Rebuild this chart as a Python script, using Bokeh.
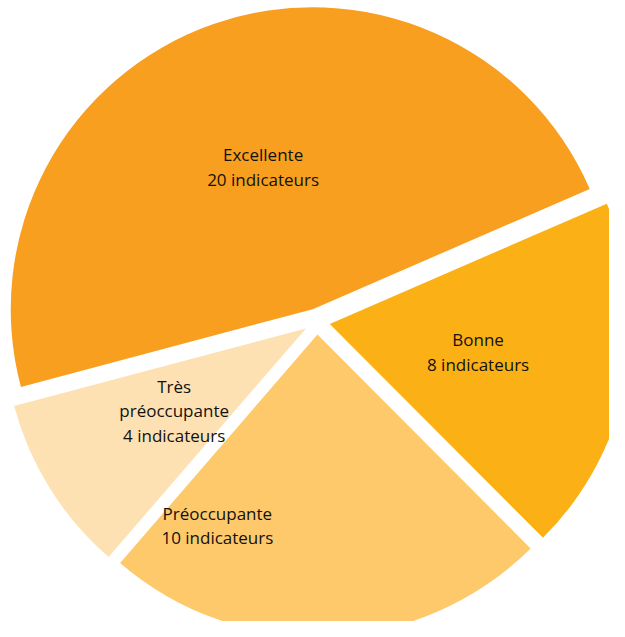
import math
from bokeh.plotting import figure
from bokeh.models import ColumnDataSource, Range1d
from bokeh.embed import file_html
from bokeh.resources import INLINE
from bokeh.core.properties import value

# ---- data ----
categories = ["Excellente", "Bonne", "Préoccupante", "Très préoccupante"]
label_names = ["Excellente", "Bonne", "Préoccupante", "Très\npréoccupante"]
counts = [20, 8, 10, 4]
unit = "indicateurs"
colors = ["#F89F1F", "#FBB116", "#FEC96A", "#FEE1B2"]

# ---- layout / style (page pixels) ----
W, H = 609, 621
PAGE_H = 637
cx, cy = 316.5, PAGE_H - 321.0
R = 302.0
explode = 13.0
first_angle = 194.9          # degrees, slices run clockwise from here
label_frac = [0.5, 0.5, 0.714, 0.515]
label_shift = [0.0, 0.0, -29.7, 0.0]

total = float(sum(counts))
xs, ys, starts, ends, lx, ly, texts = [], [], [], [], [], [], []
cum = 0.0
for i, c in enumerate(counts):
    span = 360.0 * c / total
    a0 = first_angle - cum           # clockwise start
    a1 = a0 - span                   # clockwise end
    mid = (a0 + a1) / 2.0
    ox = cx + explode * math.cos(math.radians(mid))
    oy = cy + explode * math.sin(math.radians(mid))
    xs.append(ox)
    ys.append(oy)
    starts.append(math.radians(a1))
    ends.append(math.radians(a0))
    la = math.radians(mid + label_shift[i])
    lx.append(ox + label_frac[i] * R * math.cos(la))
    ly.append(oy + label_frac[i] * R * math.sin(la))
    texts.append(f"{label_names[i]}\n{c} {unit}")
    cum += span

src = ColumnDataSource(dict(x=xs, y=ys, start=starts, end=ends, color=colors,
                            lx=lx, ly=ly, text=texts, cat=categories))

p = figure(width=W, height=H, output_backend="svg", toolbar_location=None,
           x_range=Range1d(0, W), y_range=Range1d(PAGE_H - H, PAGE_H),
           min_border=0, min_border_left=0, min_border_right=0,
           min_border_top=0, min_border_bottom=0)
p.axis.visible = False
p.xgrid.visible = False
p.ygrid.visible = False
p.outline_line_color = None
p.background_fill_color = "white"
p.border_fill_color = "white"

p.wedge(x="x", y="y", radius=R, start_angle="start", end_angle="end",
        fill_color="color", line_color=None, source=src)

p.text(x="lx", y="ly", text="text", source=src,
       text_font=value("Open Sans"), text_font_size="17px",
       text_color="#111111", text_align="center", text_baseline="middle",
       text_line_height=1.08)

open("out.html", "w").write(file_html(p, INLINE))
